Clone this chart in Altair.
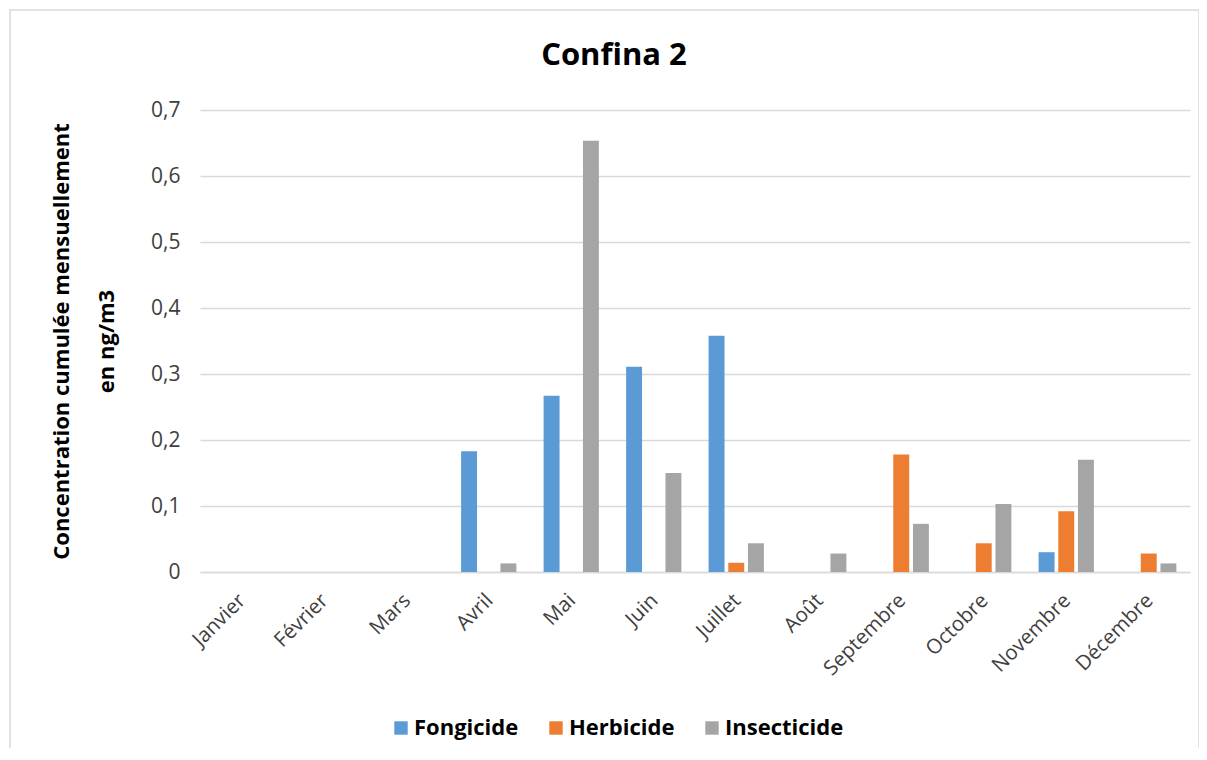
import altair as alt
import pandas as pd

months = ["Janvier", "Février", "Mars", "Avril", "Mai", "Juin", "Juillet",
          "Août", "Septembre", "Octobre", "Novembre", "Décembre"]
series = ["Fongicide", "Herbicide", "Insecticide"]
fongicide = [0, 0, 0, 0.183, 0.267, 0.311, 0.358, 0, 0, 0, 0.030, 0]
herbicide = [0, 0, 0, 0, 0, 0, 0.014, 0, 0.178, 0.0435, 0.092, 0.028]
insecticide = [0, 0, 0, 0.013, 0.6535, 0.150, 0.0435, 0.028, 0.073, 0.103, 0.170, 0.013]
colors = ["#5B9BD5", "#ED7D31", "#A5A5A5"]
title_text = "Confina 2"

rows = []
for name, vals in zip(series, [fongicide, herbicide, insecticide]):
    for m, v in zip(months, vals):
        rows.append({"Mois": m, "Type": name, "Valeur": v})
df = pd.DataFrame(rows)

FONT = "Open Sans"

bars = alt.Chart(df).mark_bar().encode(
    x=alt.X("Mois:N", sort=months, title=None,
            scale=alt.Scale(paddingInner=0.33, paddingOuter=0.165),
            axis=alt.Axis(labelAngle=-45, labelFontSize=20.5, labelColor="#404040",
                          labelFont=FONT, ticks=False, domainColor="#d9d9d9",
                          domainWidth=1.5, labelPadding=18, labelOffset=-6, grid=False)),
    xOffset=alt.XOffset("Type:N", sort=series, scale=alt.Scale(paddingInner=0.19)),
    y=alt.Y("Valeur:Q", scale=alt.Scale(domain=[0, 0.7], nice=False),
            title=["Concentration cumulée mensuellement", "en ng/m3"],
            axis=alt.Axis(values=[0, 0.1, 0.2, 0.3, 0.4, 0.5, 0.6, 0.7],
                          labelExpr="datum.value == 0 ? '0' : replace(format(datum.value, '.1f'), '.', ',')",
                          labelFontSize=21, labelColor="#404040", labelFont=FONT,
                          ticks=False, domain=False, labelPadding=20,
                          gridColor="#d9d9d9", gridWidth=1.5,
                          titleFont=FONT, titleFontSize=22, titleFontWeight="bold",
                          titleColor="#000000", titlePadding=32, titleLineHeight=45)),
    color=alt.Color("Type:N", sort=series,
                    scale=alt.Scale(domain=series, range=colors),
                    legend=alt.Legend(title=None, orient="none", direction="horizontal",
                                      legendX=190, legendY=607,
                                      symbolType="square", symbolSize=180,
                                      symbolStrokeWidth=0,
                                      labelFont=FONT, labelFontSize=22,
                                      labelFontWeight="bold", labelColor="#000000",
                                      columnPadding=26, labelOffset=2)),
)

frame = alt.Chart(pd.DataFrame({"a": [0]})).mark_rect(
    fill=None, stroke="#d9d9d9", strokeWidth=1.5
).encode(
    x=alt.value(-190), x2=alt.value(999), y=alt.value(-100), y2=alt.value(648)
)

title = alt.Chart(pd.DataFrame({"t": [title_text]})).mark_text(
    font=FONT, fontSize=31, fontWeight="bold", color="#000000",
    align="center", baseline="middle"
).encode(
    text="t:N", x=alt.value(414), y=alt.value(-54)
)

chart = alt.layer(bars, frame, title).properties(
    width=990, height=462,
    padding={"left": 192, "top": 102, "right": 9, "bottom": 176},
    autosize=alt.AutoSizeParams(type="none"),
).configure_view(stroke=None)

chart.save("out.html", embed_options={"renderer": "svg", "actions": False})
